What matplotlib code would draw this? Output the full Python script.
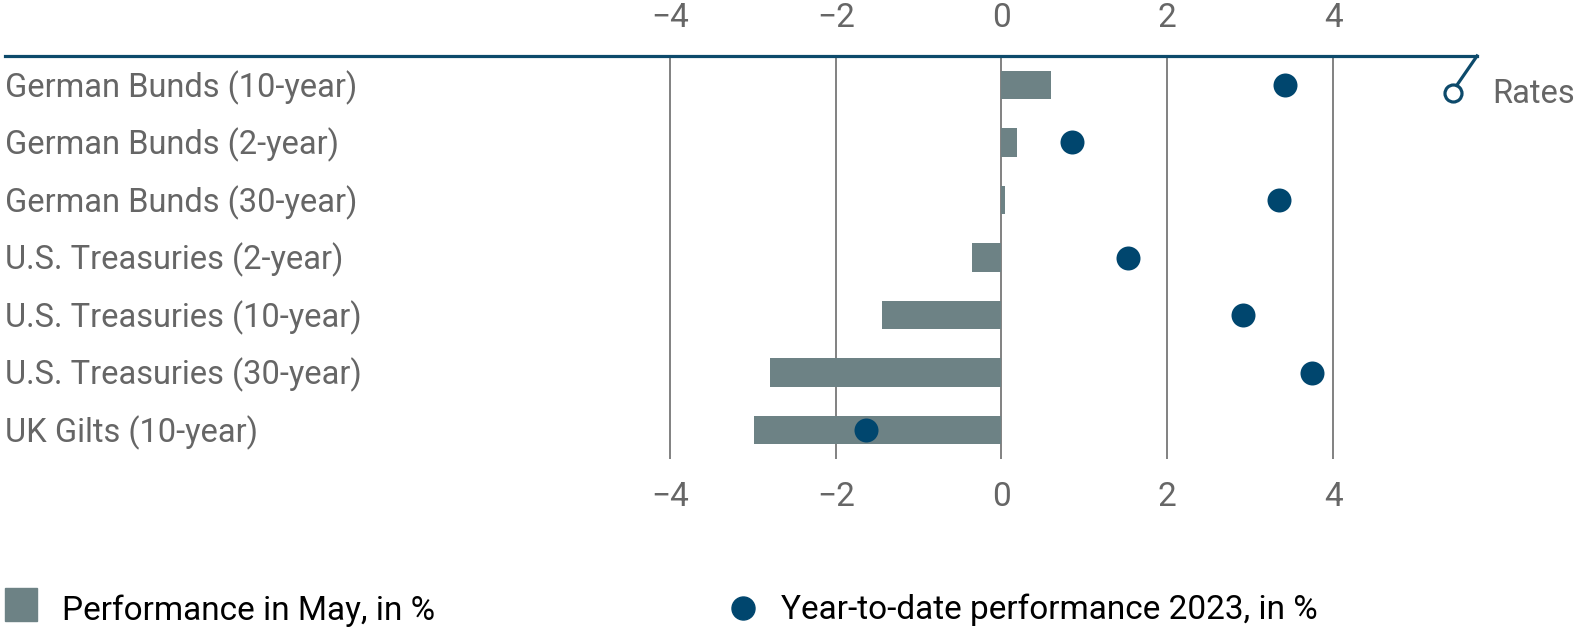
import matplotlib
matplotlib.use("Agg")
import matplotlib.pyplot as plt
from matplotlib.lines import Line2D
from matplotlib.patches import Rectangle

categories = ["German Bunds (10-year)", "German Bunds (2-year)", "German Bunds (30-year)",
              "U.S. Treasuries (2-year)", "U.S. Treasuries (10-year)", "U.S. Treasuries (30-year)",
              "UK Gilts (10-year)"]
may_perf = [0.60, 0.19, 0.04, -0.35, -1.44, -2.79, -2.99]
ytd_perf = [3.42, 0.85, 3.35, 1.52, 2.91, 3.75, -1.63]
xticks = [-4, -2, 0, 2, 4]
xtick_labels = ["\u22124", "\u22122", "0", "2", "4"]

BAR = "#6d8285"
DOT = "#00466e"
LINE = "#0d4a6b"
GREY = "#666666"

plt.rcParams["font.family"] = ["Roboto", "DejaVu Sans"]

W, H = 1574, 627
fig = plt.figure(figsize=(W / 100, H / 100), dpi=100)
ax_left, ax_right, ax_top, ax_bot = 5, 1477, 56, 459
ax = fig.add_axes([ax_left / W, 1 - ax_bot / H, (ax_right - ax_left) / W, (ax_bot - ax_top) / H])

zero_px = 1001.5
ppu = 82.9
x0 = (ax_left - zero_px) / ppu
x1 = (ax_right - zero_px) / ppu
ax.set_xlim(x0, x1)
ax.set_ylim(6.504, -0.504)
row_px = 57.5

ypos = list(range(len(categories)))
ax.barh(ypos, may_perf, height=0.49, color=BAR, zorder=2)
ax.scatter(ytd_perf, ypos, s=(24 * 0.72) ** 2, color=DOT, zorder=3, linewidths=0)

for xt in xticks:
    ax.axvline(xt, color="#777777", lw=1.3, zorder=1)

ax.set_xticks(xticks)
ax.set_xticklabels(xtick_labels)
ax.tick_params(axis="x", which="both", length=0, labelsize=24, colors=GREY,
               top=True, labeltop=True, bottom=False, labelbottom=True, pad=16)
ax.set_yticks([])
for s in ["left", "right", "bottom"]:
    ax.spines[s].set_visible(False)
ax.spines["top"].set_color(LINE)
ax.spines["top"].set_linewidth(2.3)

baseline_off = 12 / row_px
for y, lab in zip(ypos, categories):
    ax.text(x0, y + baseline_off, lab, ha="left", va="baseline", fontsize=23.5, color=GREY)

# Rates marker
fig.add_artist(Line2D([1477 / W, 1457 / W], [1 - 56 / H, 1 - 85 / H], color=LINE, lw=2.3))
ax.scatter([(1452.7 - zero_px) / ppu], [(92.7 - 85) / row_px], s=(17 * 0.72) ** 2, facecolor="white",
           edgecolor=LINE, linewidths=2.3, zorder=5, clip_on=False)
fig.text(1492 / W, 1 - 103 / H, "Rates", ha="left", va="baseline", fontsize=23.5, color=GREY)

# Legend
fig.add_artist(Rectangle((5 / W, 1 - 621 / H), 32 / W, 33 / H, color=BAR))
fig.text(62 / W, 1 - 620 / H, "Performance in May, in %", ha="left", va="baseline", fontsize=24, color="black")
fig.add_artist(Line2D([743 / W], [1 - 608 / H], marker="o", markersize=23 * 0.72, color=DOT, lw=0))
fig.text(781 / W, 1 - 619 / H, "Year-to-date performance 2023, in %", ha="left", va="baseline", fontsize=24, color="black")

fig.savefig("out.png", dpi=100)
